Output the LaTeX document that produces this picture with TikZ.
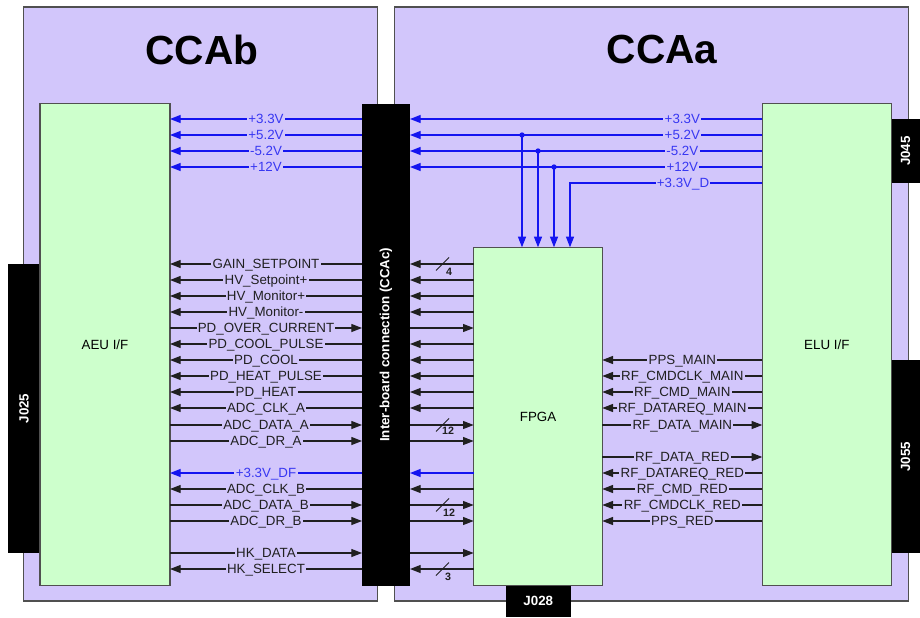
\documentclass[tikz,border=0pt]{standalone}
\usepackage{fontspec}
\setmainfont{Liberation Sans}
\usetikzlibrary{arrows.meta}
\definecolor{panelviolet}{HTML}{D2C6FB}
\definecolor{boxgreen}{HTML}{CDFFCC}
\definecolor{edgegray}{HTML}{505050}
\definecolor{signaldark}{HTML}{202020}
\definecolor{railblue}{HTML}{1414F0}
\tikzset{
  panel/.style={draw=edgegray, line width=1pt, fill=panelviolet, outer sep=0pt},
  unit/.style={draw=edgegray, line width=.9pt, fill=boxgreen, outer sep=0pt, font=\fontsize{10}{12}\selectfont},
  blackblock/.style={fill=black, text=white, outer sep=0pt, font=\fontsize{10}{12}\selectfont\bfseries},
  title/.style={font=\fontsize{30.5}{34}\selectfont\bfseries},
  signal/.style={line width=.85pt, draw=signaldark, -{Triangle[length=8pt,width=6pt]}},
  rail/.style={line width=1pt, draw=railblue, -{Triangle[length=8pt,width=6pt]}},
  sigtext/.style={fill=panelviolet, inner xsep=1pt, inner ysep=0pt, text height=7.5pt, text depth=.5pt, text=signaldark, font=\fontsize{10}{12}\selectfont},
  railtext/.style={sigtext, text=railblue!85!white},
  buswidth/.style={inner sep=0pt, text=signaldark, font=\fontsize{8}{10}\selectfont\bfseries}
}
\begin{document}
\begin{tikzpicture}[x=.75pt, y=-.75pt]
  \useasboundingbox (0,0) rectangle (920,617);

  % Boards
  \node[panel, minimum width=265.5pt, minimum height=445.5pt] (CCAb) at (200.6,304) {};
  \node[panel, minimum width=385.5pt, minimum height=445.5pt] (CCAa) at (651.2,304) {};
  \node[title] (CCAbTitle) at (202,50) {CCAb};
  \node[title] (CCAaTitle) at (662,50) {CCAa};

  % Connectors on the board edges
  \node[blackblock, minimum width=24pt, minimum height=217pt] (J025) at (24,408.5) {\rotatebox{90}{J025}};
  \node[blackblock, minimum width=21.75pt, minimum height=48pt] (J045) at (905.5,151) {\rotatebox{90}{J045}};
  \node[blackblock, minimum width=21.75pt, minimum height=145pt] (J055) at (905.5,456.7) {\rotatebox{90}{J055}};
  \node[blackblock, minimum width=48.5pt, minimum height=23.5pt] (J028) at (538.3,601.3) {J028};

  % Units
  \node[unit, minimum width=97.5pt, minimum height=361.5pt] (AEU) at (105,344.7) {AEU I/F};
  \node[unit, minimum width=96.5pt, minimum height=253.8pt] (FPGA) at (538,416.5) {FPGA};
  \node[unit, minimum width=96.75pt, minimum height=361.5pt] (ELU) at (826.8,344.7) {ELU I/F};
  \node[blackblock, minimum width=36pt, minimum height=361.5pt] (CCAc) at (386,344.7) {\rotatebox{90}{Inter-board connection (CCAc)}};

  % Power rails
  \foreach \ypos/\lbl in {119/+3.3V, 135/+5.2V, 151/-5.2V, 167/+12V} {
    \draw[rail] (ELU.west |- 0,\ypos) -- node[railtext, pos=.227] (railR\ypos) {\lbl} (CCAc.east |- 0,\ypos);
    \draw[rail] (CCAc.west |- 0,\ypos) -- node[railtext] (railL\ypos) {\lbl} (AEU.east |- 0,\ypos);
  }
  \draw[rail] (ELU.west |- 0,183) -| (570,247.3);
  \node[railtext] (railD) at (683,183) {+3.3V\_D};
  \foreach \xpos/\ypos in {522/135, 538/151, 554/167} {
    \fill[railblue] (\xpos,\ypos) circle (2pt);
    \draw[rail] (\xpos,\ypos) -- (\xpos,247.3);
  }
  \draw[rail] (FPGA.west |- 0,473) -- (CCAc.east |- 0,473);
  \draw[rail] (CCAc.west |- 0,473) -- node[railtext] (railDF) {+3.3V\_DF} (AEU.east |- 0,473);

  % FPGA to AEU
  \foreach \ypos/\lbl in {264/GAIN\_SETPOINT, 280/HV\_Setpoint+, 296/HV\_Monitor+, 312/HV\_Monitor-,
      344/PD\_COOL\_PULSE, 360/PD\_COOL, 376/PD\_HEAT\_PULSE, 392/PD\_HEAT, 408/ADC\_CLK\_A,
      489/ADC\_CLK\_B, 569/HK\_SELECT} {
    \draw[signal] (FPGA.west |- 0,\ypos) -- (CCAc.east |- 0,\ypos);
    \draw[signal] (CCAc.west |- 0,\ypos) -- node[sigtext] (sigL\ypos) {\lbl} (AEU.east |- 0,\ypos);
  }
  % AEU to FPGA
  \foreach \ypos/\lbl in {328/PD\_OVER\_CURRENT, 425/ADC\_DATA\_A, 441/ADC\_DR\_A,
      505/ADC\_DATA\_B, 521/ADC\_DR\_B, 553/HK\_DATA} {
    \draw[signal] (AEU.east |- 0,\ypos) -- node[sigtext] (sigL\ypos) {\lbl} (CCAc.west |- 0,\ypos);
    \draw[signal] (CCAc.east |- 0,\ypos) -- (FPGA.west |- 0,\ypos);
  }

  % ELU to FPGA
  \foreach \ypos/\lbl in {360/PPS\_MAIN, 376/RF\_CMDCLK\_MAIN, 392/RF\_CMD\_MAIN, 408/RF\_DATAREQ\_MAIN,
      473/RF\_DATAREQ\_RED, 489/RF\_CMD\_RED, 505/RF\_CMDCLK\_RED, 521/PPS\_RED} {
    \draw[signal] (ELU.west |- 0,\ypos) -- node[sigtext] (sigR\ypos) {\lbl} (FPGA.east |- 0,\ypos);
  }
  % FPGA to ELU
  \foreach \ypos/\lbl in {425/RF\_DATA\_MAIN, 457/RF\_DATA\_RED} {
    \draw[signal] (FPGA.east |- 0,\ypos) -- node[sigtext] (sigR\ypos) {\lbl} (ELU.west |- 0,\ypos);
  }

  % Bus widths
  \foreach \ypos/\wdth/\labx/\laby in {264/4/449/272, 425/12/448/431, 505/12/449/513, 569/3/448/577} {
    \draw[line width=.6pt, draw=signaldark] (436,\ypos+6.5) -- (449,\ypos-6.5);
    \node[buswidth] (bus\ypos) at (\labx,\laby) {\wdth};
  }
\end{tikzpicture}
\end{document}
